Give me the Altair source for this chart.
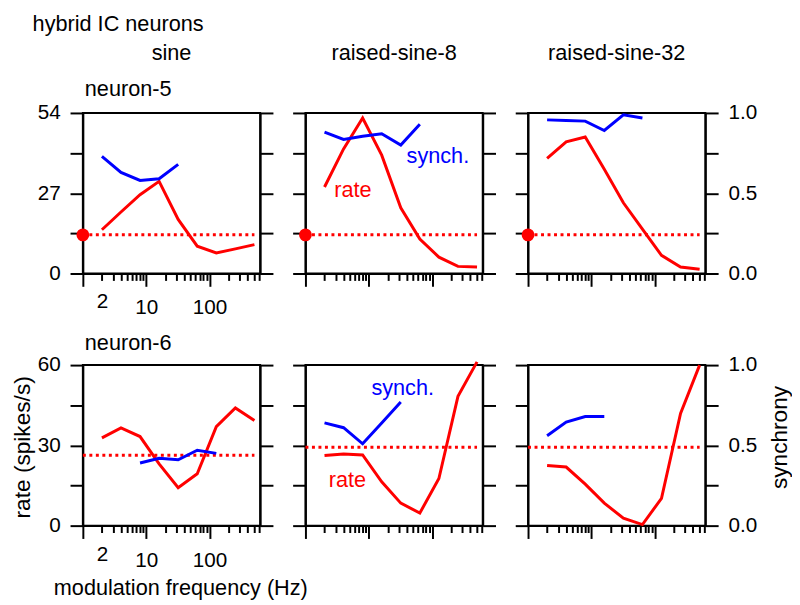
import altair as alt
import pandas as pd

# ---------------- data ----------------
freqs = [2, 4, 8, 16, 32, 64, 128, 256, 512]

n5_sine_rate = [14.7, 20.7, 26.5, 31.0, 18.2, 9.2, 6.9, 8.3, 9.7]
n5_sine_sync = [0.73, 0.63, 0.58, 0.59, 0.68]
n5_rs8_rate = [29.1, 41.9, 52.3, 39.8, 22.1, 11.6, 5.5, 2.4, 2.2]
n5_rs8_sync = [0.88, 0.835, 0.855, 0.87, 0.80, 0.93]
n5_rs32_rate = [38.7, 44.3, 45.9, 35.1, 23.8, 14.9, 6.1, 2.2, 1.4]
n5_rs32_sync = [0.957, 0.953, 0.949, 0.891, 0.988, 0.969]

n6_sine_rate = [32.8, 36.5, 33.3, 23.1, 14.2, 19.4, 37.0, 44.0, 39.3]
n6_sine_sync = [0.39, 0.42, 0.41, 0.47, 0.45]
n6_rs8_rate = [26.2, 26.8, 26.4, 16.4, 8.4, 4.7, 17.6, 48.3, 61.2]
n6_rs8_sync = [0.64, 0.61, 0.51, 0.64, 0.77]
n6_rs32_rate = [22.5, 21.9, 15.5, 8.4, 2.8, 0.4, 10.2, 41.9, 60.0]
n6_rs32_sync = [0.56, 0.645, 0.68, 0.68]

sine_sync_freqs = [2, 4, 8, 16, 32]
n6_sine_sync_freqs = [8, 16, 32, 64, 128]

n5_spont = [13.0, 13.0, 13.0]
n6_spont = [26.3, 29.3, 29.3]
spont_freqs = [1, 512]

columns = ["sine", "raised-sine-8", "raised-sine-32"]
rows = ["neuron-5", "neuron-6"]
rate_ticks = [[0, 13.5, 27, 40.5, 54], [0, 15, 30, 45, 60]]
rate_labelled = [[0, 27, 54], [0, 30, 60]]
sync_ticks = [0, 0.25, 0.5, 0.75, 1.0]
sync_labelled = [0, 0.5, 1.0]
x_ticks = [1, 2, 3, 4, 5, 6, 7, 8, 9, 10, 20, 30, 40, 50, 60, 70, 80, 90,
           100, 200, 300, 400, 500, 600]
x_major = [1, 10, 100]
x_labelled = [2, 10, 100]
x_domain = [1, 630]

# annotation labels inside panels: (text, freq, value)
ann_rate = {(0, 1): ("rate", 2.86, 25.8), (1, 1): ("rate", 2.34, 14.5)}
ann_sync = {(0, 1): ("synch.", 39.5, 0.69), (1, 1): ("synch.", 11.0, 0.816)}

FONT = "Liberation Sans"
RED = "#ff0000"
BLUE = "#0000ff"
W, H = 180, 163
FS = 21      # tick labels
TS = 22      # titles / annotations


def in_list(vals):
    return " || ".join(f"datum.value == {v}" for v in vals)


def x_axis(row, col):
    show = col == 0
    kw = dict(
        values=x_ticks,
        tickSize={"condition": {"test": in_list(x_major), "value": 13}, "value": 7},
        labels=show,
        labelPadding=11,
        title=None,
    )
    if show:
        kw["labelExpr"] = f"({in_list(x_labelled)}) ? format(datum.value, 'd') : ''"
    if row == 1 and col == 0:
        kw.update(title="modulation frequency (Hz)", titleX=-30, titleY=70,
                  titleAlign="left", titleBaseline="alphabetic", titleAnchor="start",
                  titleFontSize=TS)
    return alt.Axis(**kw)


def rate_axis(row, col):
    kw = dict(orient="left", values=rate_ticks[row], tickSize=13, labels=col == 0,
              labelPadding=10, title=None)
    if col == 0:
        kw["labelExpr"] = f"({in_list(rate_labelled[row])}) ? format(datum.value, 'd') : ''"
    if row == 1 and col == 0:
        kw.update(title="rate (spikes/s)", titleX=-49, titleY=83, titleAngle=270,
                  titleBaseline="bottom", titleAlign="center", titleFontSize=23)
    return alt.Axis(**kw)


def sync_axis(row, col):
    kw = dict(orient="right", values=sync_ticks, tickSize=13, labels=col == 2,
              labelPadding=10, title=None)
    if col == 2:
        kw["labelExpr"] = f"({in_list(sync_labelled)}) ? format(datum.value, '.1f') : ''"
    if row == 1 and col == 2:
        kw.update(title="synchrony", titleX=87, titleY=73, titleAngle=270,
                  titleBaseline="bottom", titleAlign="center", titleFontSize=23)
    return alt.Axis(**kw)


def text_layer(txt, x, y, align="left", size=TS):
    return alt.Chart(pd.DataFrame({"label": [txt]})).mark_text(
        font=FONT, fontSize=size, align=align, baseline="alphabetic", color="black"
    ).encode(text="label:N", x=alt.value(x), y=alt.value(y))


def panel(row, col, rate, sync, sync_f, spont):
    xs = alt.Scale(type="log", domain=x_domain, nice=False)
    rmax = rate_ticks[row][-1]
    rs = alt.Scale(domain=[0, rmax], nice=False, zero=True)
    ss = alt.Scale(domain=[0, 1], nice=False)

    def X():
        return alt.X("f:Q", scale=xs, axis=x_axis(row, col))

    def YR():
        return alt.Y("v:Q", scale=rs, axis=rate_axis(row, col))

    def YS():
        return alt.Y("v:Q", scale=ss, axis=sync_axis(row, col))

    rate_df = pd.DataFrame({"f": freqs, "v": rate})
    sync_df = pd.DataFrame({"f": sync_f, "v": sync})
    sp_df = pd.DataFrame({"f": spont_freqs, "v": [spont, spont]})

    rate_layers = [
        alt.Chart(sp_df).mark_line(color=RED, strokeWidth=3, strokeDash=[3, 3.6])
        .encode(x=X(), y=YR()),
        alt.Chart(rate_df).mark_line(color=RED, strokeWidth=3).encode(x=X(), y=YR()),
    ]
    if row == 0:
        rate_layers.append(
            alt.Chart(pd.DataFrame({"f": [1], "v": [spont]}))
            .mark_circle(color=RED, size=170, opacity=1)
            .encode(x=X(), y=YR())
        )
    if (row, col) in ann_rate:
        t, f, v = ann_rate[(row, col)]
        rate_layers.append(
            alt.Chart(pd.DataFrame({"f": [f], "v": [v], "label": [t]}))
            .mark_text(font=FONT, fontSize=TS, color=RED, align="left", baseline="alphabetic")
            .encode(x=X(), y=YR(), text="label:N")
        )
    sync_layers = [
        alt.Chart(sync_df).mark_line(color=BLUE, strokeWidth=3).encode(x=X(), y=YS()),
    ]
    if (row, col) in ann_sync:
        t, f, v = ann_sync[(row, col)]
        sync_layers.append(
            alt.Chart(pd.DataFrame({"f": [f], "v": [v], "label": [t]}))
            .mark_text(font=FONT, fontSize=TS, color=BLUE, align="left", baseline="alphabetic")
            .encode(x=X(), y=YS(), text="label:N")
        )

    texts = []
    if row == 0:
        texts.append(text_layer(columns[col], 90, -54, align="center"))
        if col == 0:
            texts.append(text_layer("hybrid IC neurons", -51, -83))
            texts.append(text_layer(rows[0], 2, -17))
    if row == 1 and col == 0:
        texts.append(text_layer(rows[1], 2, -15))

    layers = [alt.layer(*rate_layers), alt.layer(*sync_layers)] + texts
    return alt.layer(*layers).resolve_scale(y="independent").properties(width=W, height=H)


rate_sets = [[n5_sine_rate, n5_rs8_rate, n5_rs32_rate], [n6_sine_rate, n6_rs8_rate, n6_rs32_rate]]
sync_sets = [[n5_sine_sync, n5_rs8_sync, n5_rs32_sync], [n6_sine_sync, n6_rs8_sync, n6_rs32_sync]]
sync_freq_sets = [[sine_sync_freqs, freqs[:6], freqs[:6]], [n6_sine_sync_freqs, freqs[:5], freqs[:4]]]
sponts = [n5_spont, n6_spont]

panels = [panel(r, c, rate_sets[r][c], sync_sets[r][c], sync_freq_sets[r][c], sponts[r][c])
          for r in range(2) for c in range(3)]

chart = alt.concat(
    *panels, columns=3, spacing={"row": 93, "column": 46}, bounds="flush"
).properties(
    padding={"left": 3, "top": 0, "right": 0, "bottom": 0}
).configure_view(
    stroke="black", strokeWidth=2
).configure_axis(
    domainColor="black", domainWidth=2, tickColor="black", tickWidth=2,
    labelColor="black", labelFont=FONT, labelFontSize=FS, grid=False,
    titleFont=FONT, titleFontSize=TS, titleFontWeight="normal", titleColor="black",
)

chart.save("out.html", embed_options={"renderer": "svg", "actions": False})
